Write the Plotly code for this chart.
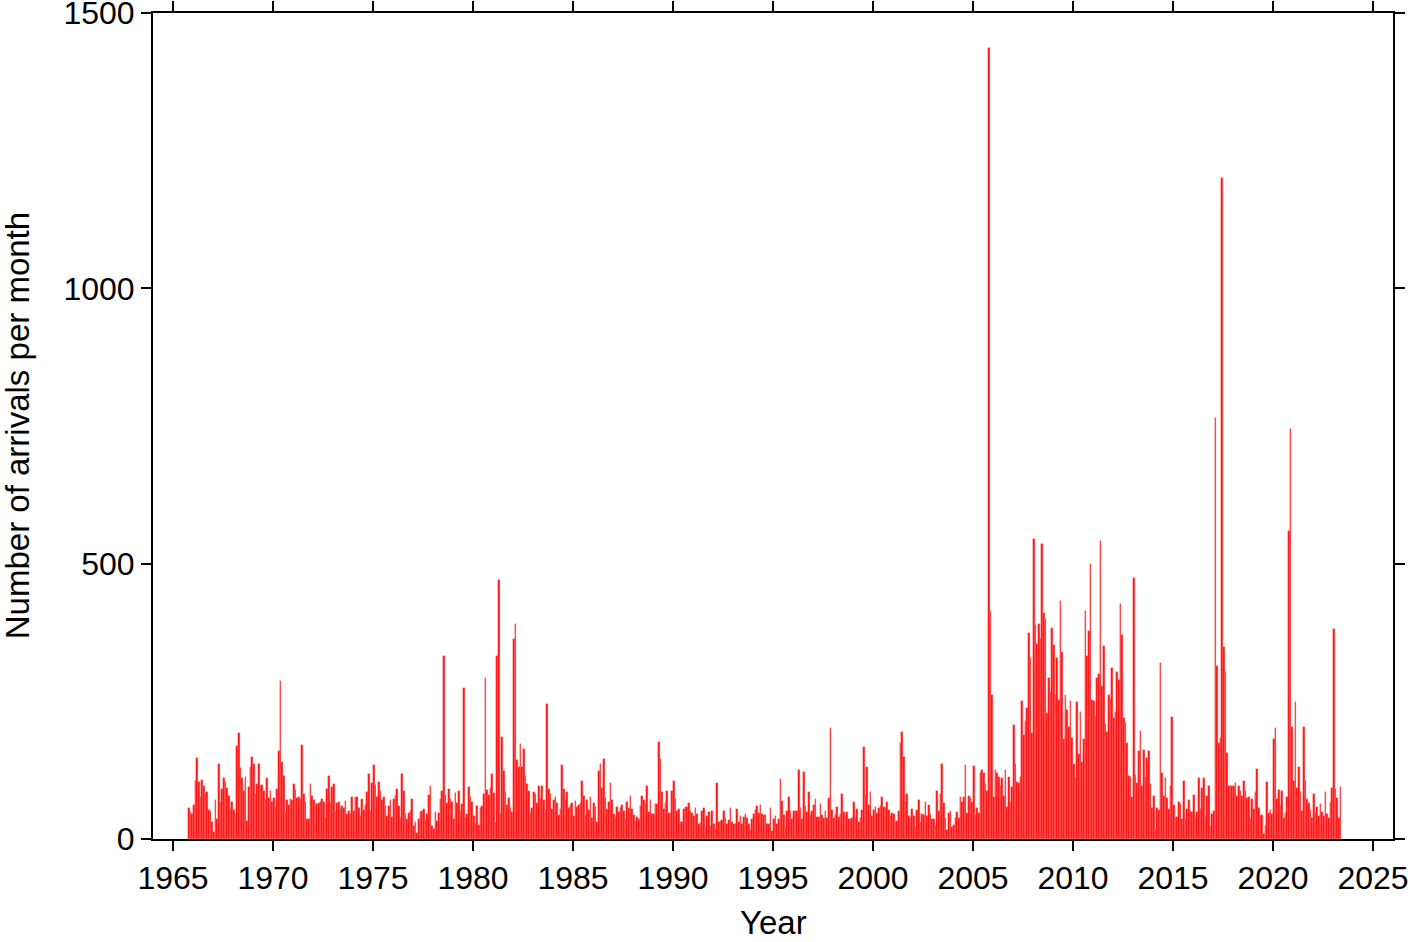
import plotly.graph_objects as go

start_year = 1965
start_month = 10  # first bar: October 1965

counts = [
    # 1965-10 ...
    57, 49, 46, 61, 106, 147, 103, 77, 108, 96, 81, 85, 53, 50, 30, 13, 70, 37, 137, 67,
    91, 110, 103, 92, 78, 55, 68, 53, 46, 168, 192, 129, 111, 87, 112, 33, 94, 131, 149, 137,
    82, 99, 137, 97, 98, 87, 71, 111, 74, 88, 67, 74, 57, 91, 160, 287, 139, 114,
    47, 70, 62, 73, 70, 99, 89, 74, 76, 73, 170, 82, 68, 37, 37, 99, 79, 70, 63, 63,
    66, 67, 72, 67, 38, 91, 114, 65, 94, 100, 49, 65, 67, 54, 60, 57, 69, 45, 51, 46,
    76, 51, 76, 76, 57, 41, 73, 53, 62, 85, 118, 51, 102, 134, 98, 77, 103, 87, 70, 77,
    60, 42, 60, 70, 40, 73, 78, 91, 60, 39, 118, 88, 45, 36, 48, 50, 73, 24, 30, 11,
    36, 49, 50, 54, 33, 46, 80, 97, 23, 19, 49, 33, 47, 73, 87, 332, 80, 65, 90, 72,
    67, 36, 83, 66, 88, 51, 64, 275, 39, 45, 94, 76, 67, 42, 27, 60, 26, 56, 60, 81,
    293, 89, 80, 92, 118, 83, 29, 333, 471, 46, 185, 123, 85, 62, 74, 57, 49, 364, 390, 143,
    131, 172, 131, 163, 114, 100, 87, 47, 56, 85, 82, 66, 96, 73, 97, 71, 53, 246, 90, 82,
    55, 71, 76, 65, 44, 55, 134, 91, 71, 86, 57, 62, 65, 41, 69, 58, 61, 65, 106, 78,
    42, 71, 53, 76, 38, 65, 58, 31, 123, 136, 93, 145, 75, 54, 68, 101, 70, 45, 40, 58,
    49, 57, 62, 51, 37, 68, 57, 78, 55, 44, 33, 40, 36, 60, 79, 71, 64, 96, 49, 71,
    45, 45, 63, 63, 177, 145, 86, 55, 65, 88, 48, 48, 88, 105, 73, 51, 54, 30, 31, 54,
    59, 59, 65, 51, 47, 41, 56, 45, 28, 29, 50, 56, 22, 42, 49, 24, 50, 28, 17, 101,
    30, 32, 34, 51, 38, 27, 34, 57, 31, 27, 27, 54, 31, 42, 28, 40, 46, 38, 27, 16,
    37, 46, 53, 60, 47, 62, 46, 44, 44, 28, 27, 56, 14, 36, 41, 27, 36, 109, 69,
    43, 22, 51, 76, 51, 36, 51, 51, 51, 126, 57, 36, 121, 60, 49, 85, 44, 51, 62, 73,
    40, 40, 64, 43, 38, 50, 38, 74, 201, 53, 38, 44, 59, 40, 46, 82, 49, 42, 49, 37,
    37, 38, 68, 38, 54, 31, 38, 52, 167, 80, 131, 62, 85, 42, 53, 58, 47, 56, 60, 76,
    58, 57, 68, 52, 42, 48, 46, 31, 33, 50, 174, 195, 149, 67, 81, 42, 39, 54, 42, 21,
    52, 71, 30, 46, 44, 67, 42, 62, 46, 36, 36, 24, 88, 50, 81, 137, 65, 38, 17, 47,
    51, 21, 26, 39, 49, 39, 76, 67, 77, 135, 47, 78, 75, 68, 132, 44, 57, 48, 119, 125,
    120, 100, 88, 1436, 414, 261, 76, 126, 120, 113, 96, 110, 78, 126, 59, 113, 68, 95, 207, 136,
    103, 101, 113, 250, 188, 215, 237, 375, 328, 192, 545, 389, 355, 390, 364, 535, 410, 400, 228, 292,
    267, 384, 353, 261, 329, 252, 433, 340, 181, 261, 234, 204, 251, 183, 136, 111, 249, 154, 231, 139,
    181, 414, 332, 378, 500, 252, 250, 224, 293, 300, 541, 277, 350, 209, 194, 262, 255, 310, 219, 231,
    303, 288, 426, 371, 220, 211, 174, 114, 112, 76, 474, 117, 102, 159, 197, 97, 162, 112, 148, 159,
    99, 56, 79, 19, 56, 52, 319, 119, 79, 110, 75, 54, 96, 221, 62, 39, 40, 68, 64, 36,
    106, 37, 54, 70, 51, 49, 80, 40, 49, 110, 55, 93, 110, 40, 79, 96, 23, 46, 51, 764,
    314, 174, 183, 1200, 348, 303, 157, 97, 96, 97, 97, 102, 79, 97, 88, 79, 105, 88, 74, 76,
    37, 72, 54, 86, 128, 57, 41, 44, 9, 23, 103, 47, 52, 45, 181, 202, 72, 89, 61, 88,
    39, 48, 77, 560, 745, 203, 105, 248, 93, 131, 86, 50, 203, 106, 73, 65, 53, 39, 82, 47,
    59, 42, 64, 49, 42, 85, 46, 38, 65, 93, 382, 91, 74, 39, 94,
]

x_ticks = [1965, 1970, 1975, 1980, 1985, 1990, 1995, 2000, 2005, 2010, 2015, 2020, 2025]
y_ticks = [0, 500, 1000, 1500]
x_title = "Year"
y_title = "Number of arrivals per month"

# month centres in decimal years
months = [start_year + (start_month - 1 + i) / 12 + 1 / 24 for i in range(len(counts))]

fig = go.Figure(
    go.Bar(
        x=months,
        y=counts,
        width=1 / 12,
        marker=dict(color="#ff1010", line=dict(color="#ff6a6a", width=0.35)),
    )
)

font_family = "Liberation Sans, Arial, Helvetica, sans-serif"
axis_common = dict(
    showline=True,
    linecolor="black",
    linewidth=2,
    mirror="ticks",
    ticks="outside",
    ticklen=10,
    tickwidth=1.5,
    tickcolor="black",
    showgrid=False,
    zeroline=False,
    automargin=False,
    ticklabeloverflow="allow",
    tickfont=dict(family=font_family, size=32, color="black"),
)

fig.update_layout(
    width=1419,
    height=942,
    margin=dict(l=153, r=26, t=13, b=103, autoexpand=False),
    paper_bgcolor="white",
    plot_bgcolor="white",
    showlegend=False,
    bargap=0,
    xaxis=dict(
        range=[1964, 2026],
        tickvals=x_ticks,
        ticktext=[str(v) for v in x_ticks],
        **axis_common,
    ),
    yaxis=dict(
        range=[0, 1500],
        tickvals=y_ticks,
        ticktext=[str(v) for v in y_ticks],
        **axis_common,
    ),
    annotations=[
        dict(text=x_title, xref="paper", yref="paper", x=0.5, y=-0.101,
             xanchor="center", yanchor="middle", showarrow=False,
             font=dict(family=font_family, size=33, color="black")),
        dict(text=y_title, xref="paper", yref="paper", x=-0.1095, y=0.5,
             xanchor="center", yanchor="middle", textangle=-90, showarrow=False,
             font=dict(family=font_family, size=33, color="black")),
    ],
)

fig.write_html(
    "out.html",
    config={"displayModeBar": False},
    post_script="document.body.style.margin='0';document.body.style.overflow='hidden';",
)
